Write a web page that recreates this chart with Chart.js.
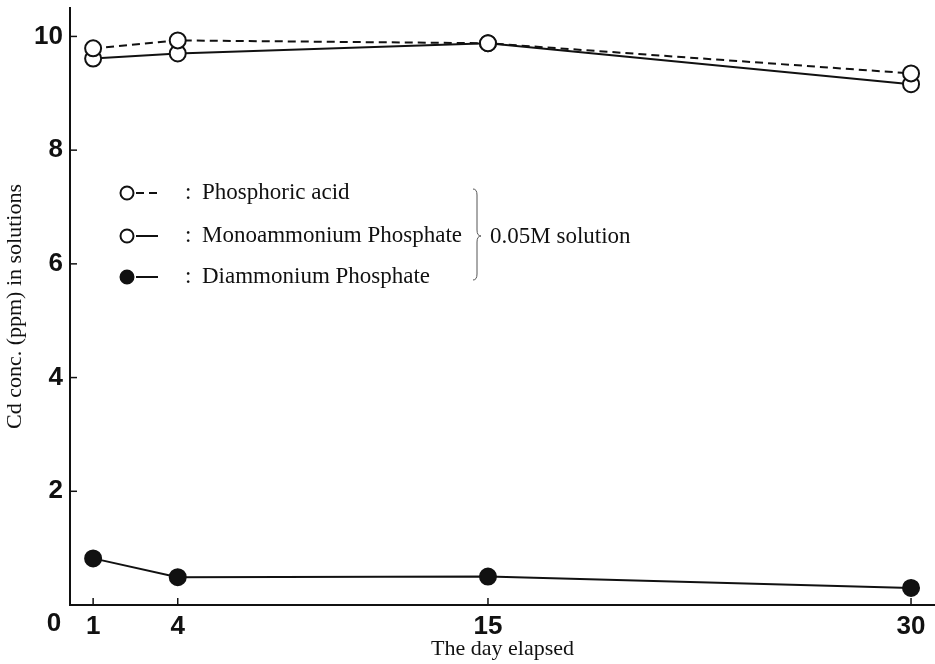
<!DOCTYPE html>
<html>
<head>
<meta charset="utf-8">
<script src="https://cdn.jsdelivr.net/npm/chart.js@4.4.1/dist/chart.umd.min.js"></script>
<style>
  html, body { margin: 0; padding: 0; background: #fff; }
</style>
</head>
<body>
<canvas id="chartCd" width="935" height="664"></canvas>
<script>
// ── Data ──
const days = [1, 4, 15, 30];
const phosphoricAcid = [9.79, 9.93, 9.88, 9.35];
const monoammonium = [9.61, 9.70, 9.88, 9.16];
const diammonium = [0.82, 0.49, 0.50, 0.30];

const xTicks = [1, 4, 15, 30];
const yTicks = [0, 2, 4, 6, 8, 10];

const seriesNames = ['Phosphoric acid', 'Monoammonium Phosphate', 'Diammonium Phosphate'];
const groupNote = '0.05M solution';
const xTitle = 'The day elapsed';
const yTitle = 'Cd conc. (ppm) in solutions';

const INK = '#111';
const SERIF = "'Liberation Serif', 'DejaVu Serif', serif";
const BOLD = "'Liberation Sans', Arial, sans-serif";

function pts(values) {
  return days.map((d, i) => ({ x: d, y: values[i] }));
}

function series(label, values, dash, fill) {
  return {
    label: label,
    data: pts(values),
    borderColor: INK,
    borderWidth: 2,
    borderDash: dash,
    pointRadius: 8,
    pointHoverRadius: 8,
    pointBorderWidth: 2,
    pointBorderColor: INK,
    pointBackgroundColor: fill,
    tension: 0,
  };
}

// Chart.js reserves room for half tick labels at the ends; the figure doesn't.
function noEdgePadding(s) {
  s.paddingLeft = 0;
  s.paddingRight = 0;
  s.paddingTop = 0;
  s.paddingBottom = 0;
}

// ── Extras drawn on top: inward ticks, origin "0", legend box, bracket ──
const paperExtras = {
  id: 'paperExtras',
  afterDraw(chart) {
    const { ctx, chartArea, scales: { x, y } } = chart;
    ctx.save();
    ctx.strokeStyle = INK;
    ctx.lineWidth = 1.5;
    xTicks.forEach(v => {
      const px = x.getPixelForValue(v);
      ctx.beginPath();
      ctx.moveTo(px, chartArea.bottom);
      ctx.lineTo(px, chartArea.bottom - 7);
      ctx.stroke();
    });
    yTicks.filter(v => v !== 0).forEach(v => {
      const py = y.getPixelForValue(v);
      ctx.beginPath();
      ctx.moveTo(chartArea.left, py);
      ctx.lineTo(chartArea.left + 7, py);
      ctx.stroke();
    });

    // origin label sits in the lower-left corner
    ctx.fillStyle = INK;
    ctx.font = `bold 26px ${BOLD}`;
    ctx.textAlign = 'center';
    ctx.textBaseline = 'middle';
    ctx.fillText(String(yTicks[0]), chartArea.left - 16, y.getPixelForValue(0) + 19);

    // legend
    const rows = [193, 236, 277];
    ctx.font = `23px ${SERIF}`;
    chart.data.datasets.forEach((ds, i) => {
      const cy = rows[i];
      ctx.strokeStyle = INK;
      ctx.lineWidth = 2;
      ctx.setLineDash(ds.borderDash || []);
      ctx.beginPath();
      ctx.moveTo(136, cy);
      ctx.lineTo(158, cy);
      ctx.stroke();
      ctx.setLineDash([]);
      ctx.beginPath();
      ctx.arc(127, cy, 6.5, 0, Math.PI * 2);
      ctx.fillStyle = ds.pointBackgroundColor;
      ctx.fill();
      ctx.stroke();
      ctx.fillStyle = INK;
      ctx.textAlign = 'left';
      ctx.fillText(':', 185, cy);
      ctx.fillText(ds.label, 202, cy);
    });

    // brace grouping the three solutions
    ctx.strokeStyle = '#555';
    ctx.lineWidth = 1;
    ctx.beginPath();
    ctx.moveTo(473, 189);
    ctx.quadraticCurveTo(477, 189, 477, 195);
    ctx.lineTo(477, 230);
    ctx.quadraticCurveTo(477, 236, 481, 236);
    ctx.quadraticCurveTo(477, 236, 477, 242);
    ctx.lineTo(477, 274);
    ctx.quadraticCurveTo(477, 280, 473, 280);
    ctx.stroke();
    ctx.fillStyle = INK;
    ctx.fillText(groupNote, 490, 237);
    ctx.restore();
  },
};

const ctx = document.getElementById('chartCd').getContext('2d');
const chart = new Chart(ctx, {
  type: 'line',
  data: {
    datasets: [
      series(seriesNames[0], phosphoricAcid, [8, 5], '#fff'),
      series(seriesNames[1], monoammonium, [], '#fff'),
      series(seriesNames[2], diammonium, [], INK),
    ],
  },
  options: {
    responsive: false,
    animation: false,
    devicePixelRatio: 1,
    layout: { autoPadding: false, padding: { top: 8, left: 0, right: 0, bottom: 0 } },
    plugins: {
      legend: { display: false },
      tooltip: { enabled: false },
    },
    scales: {
      x: {
        type: 'linear',
        min: 0.18,
        max: 30.85,
        afterBuildTicks: s => { s.ticks = xTicks.map(v => ({ value: v })); },
        afterFit: s => { s.height = 59; noEdgePadding(s); },
        grid: { display: true, drawOnChartArea: false, drawTicks: false },
        border: { display: true, color: INK, width: 2 },
        ticks: {
          color: INK,
          font: { family: BOLD, size: 26, weight: 'bold' },
          padding: 6,
          autoSkip: false,
          maxRotation: 0,
        },
        title: {
          display: true,
          text: xTitle,
          color: INK,
          font: { family: SERIF, size: 22 },
          padding: { top: 0, bottom: 2 },
        },
      },
      y: {
        min: 0,
        max: 10.5,
        afterBuildTicks: s => { s.ticks = yTicks.filter(v => v !== 0).map(v => ({ value: v })); },
        afterFit: s => { s.width = 70; noEdgePadding(s); },
        grid: { display: true, drawOnChartArea: false, drawTicks: false },
        border: { display: true, color: INK, width: 2 },
        ticks: {
          color: INK,
          font: { family: BOLD, size: 26, weight: 'bold' },
          padding: 7,
        },
        title: {
          display: true,
          text: yTitle,
          color: INK,
          font: { family: SERIF, size: 22 },
          padding: { top: 2, bottom: 0 },
        },
      },
    },
  },
  plugins: [paperExtras],
});
</script>
</body>
</html>
